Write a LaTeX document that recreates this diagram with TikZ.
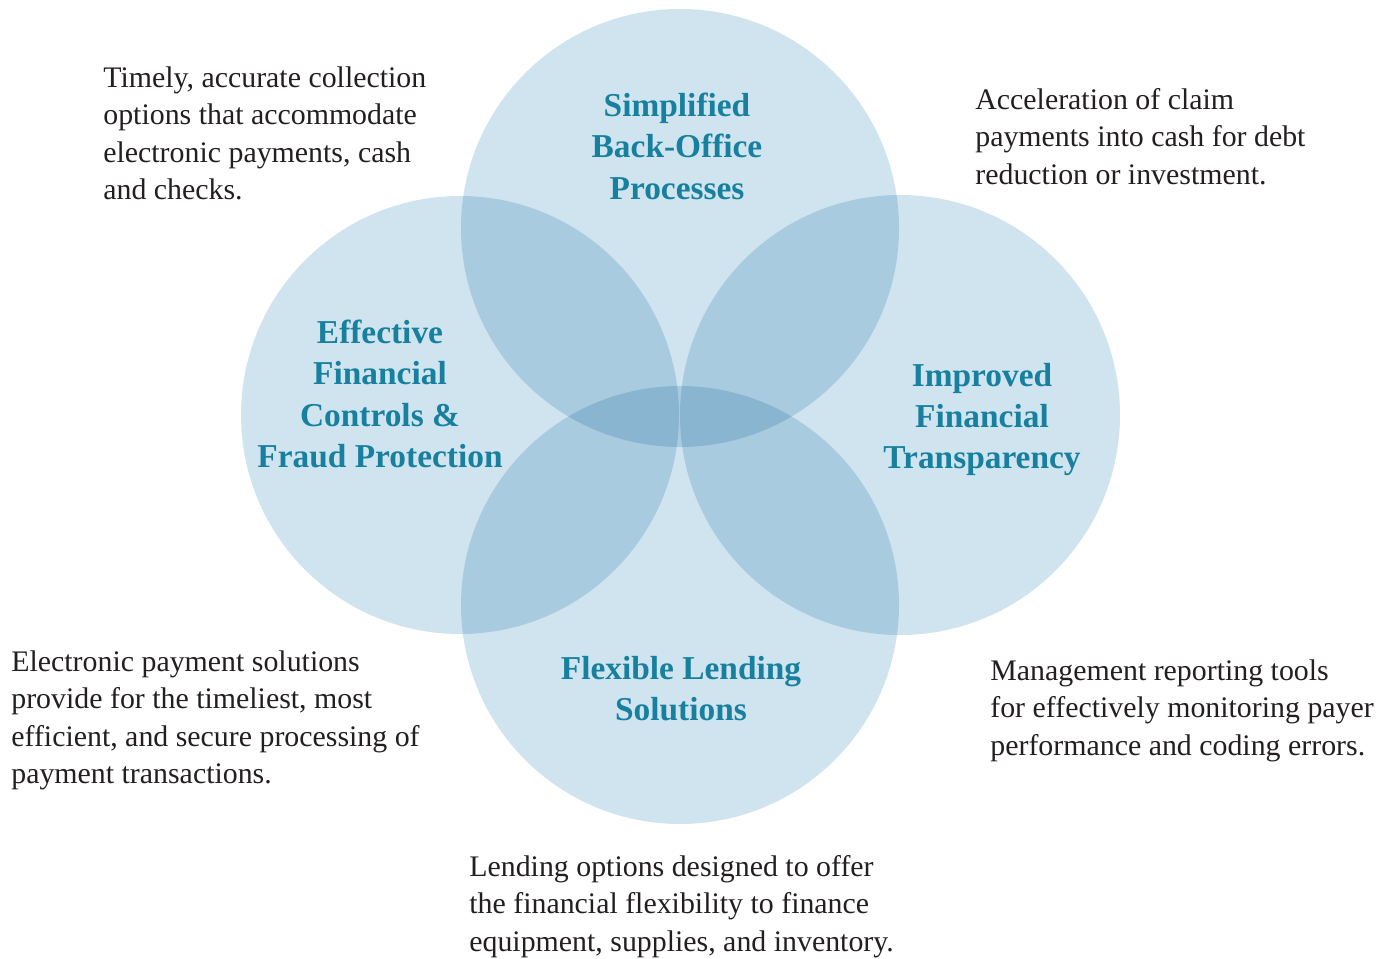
\documentclass[tikz,border=0pt]{standalone}
\usepackage{fontspec}
\setmainfont{Liberation Serif}
\usepackage{tikz}
\usetikzlibrary{positioning}

\definecolor{circfill}{RGB}{208,228,239}
\definecolor{headteal}{RGB}{23,128,159}
\definecolor{bodytext}{RGB}{35,31,32}

\begin{document}
\begin{tikzpicture}[x=0.02cm, y=-0.02cm]
% -------------------------------------------------
\tikzset{
  ring/.style={fill=circfill, draw=none},
  head/.style={align=center, anchor=north, inner sep=0pt, text=headteal,
               font=\fontsize{19}{23.4}\selectfont\bfseries},
  note/.style={align=left, anchor=north west, inner sep=0pt, text=bodytext,
               font=\fontsize{17}{21.4}\selectfont}
}
    \useasboundingbox (0,0) rectangle (1388,959);

    \coordinate (ctop) at (680,228);                 % top circle centre
    \coordinate (clft) at (460,415);                 % left circle centre
    \coordinate (crgt) at (900,415);                 % right circle centre
    \coordinate (cbot) at (680,605);                 % bottom circle centre

    \begin{scope}[blend group=multiply]
    \fill[ring] (ctop) circle[radius=219];           % top circle
    \fill[ring] (clft) circle[radius=219];           % left circle
    \fill[ring] (crgt) circle[radius=220];           % right circle
    \fill[ring] (cbot) circle[radius=219];           % bottom circle
    \end{scope}

    \node [head] (smp) at (677,93)  {Simplified\\Back-Office\\Processes};
    \node [head] (eff) at (380,320) {Effective\\Financial\\Controls \&\\Fraud Protection};
    \node [head] (imp) at (982,363) {Improved\\Financial\\Transparency};
    \node [head] (flx) at (681,656) {Flexible Lending\\Solutions};

    \node [note] (tml) at (103,66)  {Timely, accurate collection\\options that accommodate\\electronic payments, cash\\and checks.};
    \node [note] (acc) at (975,88)  {Acceleration of claim\\payments into cash for debt\\reduction or investment.};
    \node [note] (elc) at (11,650)  {Electronic payment solutions\\provide for the timeliest, most\\efficient, and secure processing of\\payment transactions.};
    \node [note] (mgt) at (990,659) {Management reporting tools\\for effectively monitoring payer\\performance and coding errors.};
    \node [note] (lnd) at (469,855) {Lending options designed to offer\\the financial flexibility to finance\\equipment, supplies, and inventory.};

\end{tikzpicture}
\end{document}
